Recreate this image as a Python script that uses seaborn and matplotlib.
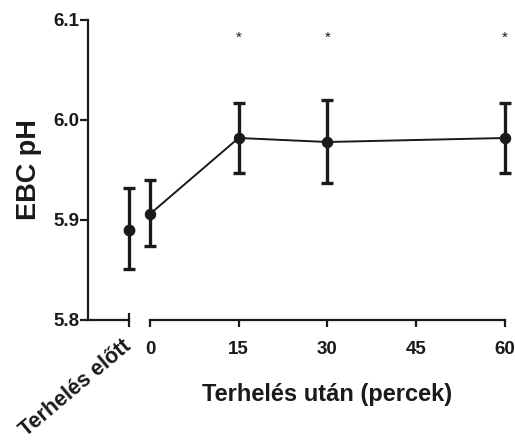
import numpy as np
import matplotlib
matplotlib.use("Agg")
import matplotlib.pyplot as plt
import seaborn as sns
import pandas as pd

# values
before_label = "Terhelés előtt"
before_mean = 5.890
before_low = 5.851
before_high = 5.932

minutes = [0, 15, 30, 60]
ph_mean = [5.906, 5.982, 5.978, 5.982]
ph_low = [5.874, 5.947, 5.937, 5.947]
ph_high = [5.940, 6.017, 6.020, 6.017]
significant = [15, 30, 60]
star_y = 6.082

minute_ticks = [0, 15, 30, 45, 60]
y_ticks = [5.8, 5.9, 6.0, 6.1]

sns.set_style("ticks")
plt.rcParams["font.family"] = ["Liberation Sans", "DejaVu Sans"]
plt.rcParams["font.weight"] = "bold"
ink = "#1a1a1a"

fig = plt.figure(figsize=(5.15, 4.47), dpi=100)
ax_pre = fig.add_axes([88 / 515, 1 - 320 / 447, 41 / 515, 300 / 447])
ax = fig.add_axes([150 / 515, 1 - 320 / 447, 354.5 / 515, 300 / 447])

err_kw = dict(fmt="none", ecolor=ink, elinewidth=2.4, capsize=4.5, capthick=2.4, clip_on=False, zorder=3)

# before exercise
ax_pre.errorbar([0], [before_mean], yerr=[[before_mean - before_low], [before_high - before_mean]], **err_kw)
ax_pre.plot([0], [before_mean], "o", color=ink, ms=7.5, clip_on=False, zorder=4)

# after exercise
df = pd.DataFrame({"perc": minutes, "ph": ph_mean})
sns.lineplot(data=df, x="perc", y="ph", ax=ax, color=ink, lw=1.4, marker="o", ms=7.5,
             markeredgecolor=ink, clip_on=False, zorder=4)
lo = np.array(ph_mean) - np.array(ph_low)
hi = np.array(ph_high) - np.array(ph_mean)
ax.errorbar(minutes, ph_mean, yerr=[lo, hi], **err_kw)
for m in significant:
    ax.text(m, star_y, "*", ha="center", va="center", fontsize=11, fontweight="normal", color=ink)

for a in (ax_pre, ax):
    a.set_ylim(5.8, 6.1)
    for s in ("top", "right"):
        a.spines[s].set_visible(False)
    a.spines["bottom"].set_linewidth(1.6)
    a.spines["bottom"].set_color(ink)

ax_pre.set_xlim(-1, 0)
ax_pre.spines["left"].set_linewidth(1.6)
ax_pre.spines["left"].set_color(ink)
ax_pre.set_yticks(y_ticks)
ax_pre.set_yticklabels([f"{v:.1f}" for v in y_ticks])
ax_pre.tick_params(axis="y", direction="out", length=6, width=1.6, color=ink, labelsize=13.5, labelcolor=ink, pad=0)
ax_pre.set_xticks([0])
ax_pre.set_xticklabels([before_label], rotation=40, ha="right", va="center", rotation_mode="anchor")
ax_pre.tick_params(axis="x", direction="inout", length=10, width=1.6, color=ink, labelsize=15.5, labelcolor=ink, pad=12)
ax_pre.set_ylabel("EBC pH", fontsize=19.5, fontweight="bold", color=ink, labelpad=8)

ax.set_xlim(0, 60)
ax.spines["left"].set_visible(False)
ax.set_yticks([])
ax.set_ylabel("")
ax.set_xticks(minute_ticks)
ax.set_xticklabels([str(t) for t in minute_ticks])
ax.tick_params(axis="x", direction="out", length=5, width=1.6, color=ink, labelsize=13.5, labelcolor=ink, pad=10)
ax.set_xticks([0, 60], minor=True)
ax.tick_params(axis="x", which="minor", direction="inout", length=10, width=1.6, color=ink)
ax.set_xlabel("Terhelés után (percek)", fontsize=17, fontweight="bold", color=ink, labelpad=18)

fig.savefig("out.png", dpi=100)
